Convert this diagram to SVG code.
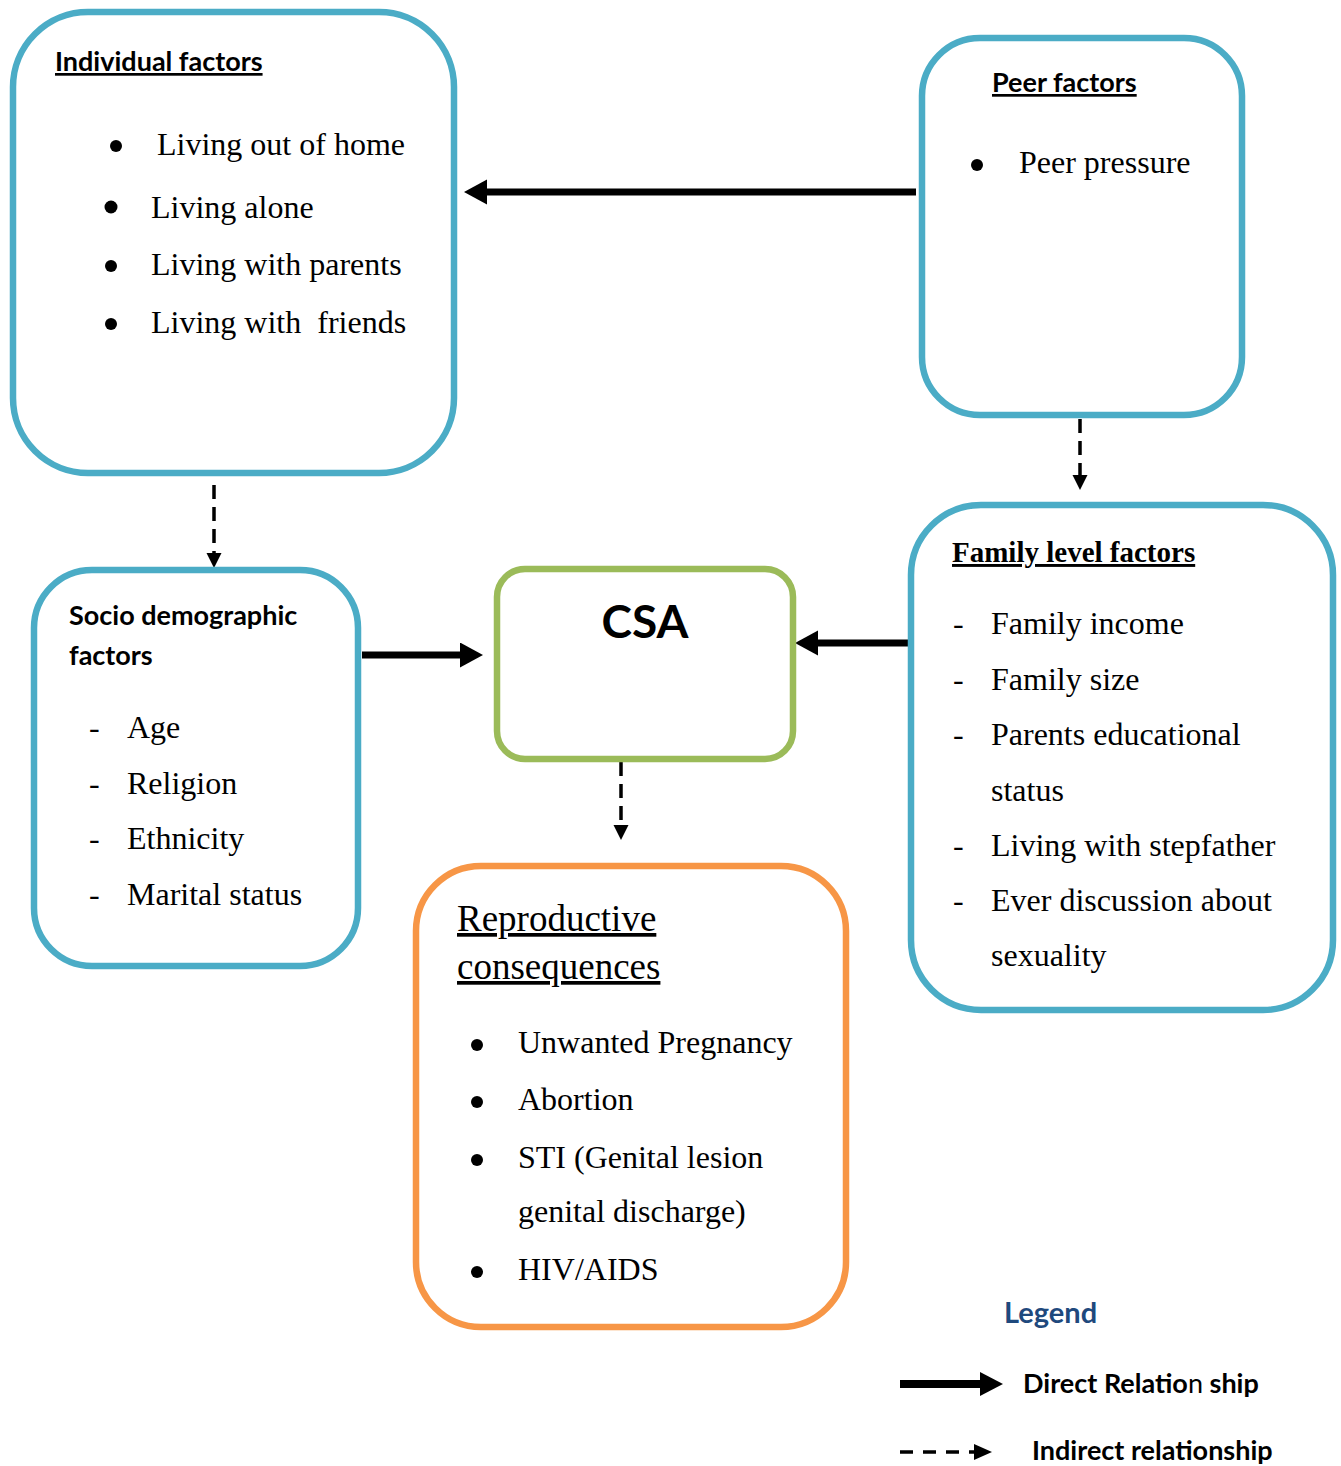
<svg xmlns="http://www.w3.org/2000/svg" width="1341" height="1466" viewBox="0 0 1341 1466">
<style>
.box{fill:#fff;stroke-width:6.5}
.blue{stroke:#4BACC6}
.green{stroke:#9BBB59}
.orange{stroke:#F79646}
.sans{font-family:Lato,"Liberation Sans",sans-serif;font-weight:bold;fill:#000}
.serif{font-family:"Liberation Serif",serif;font-size:32px;fill:#000}
.h{font-size:27px}
.u{text-decoration:underline}
.direct{stroke:#000;stroke-width:7;fill:none}
.indirect{stroke:#000;stroke-width:3.5;fill:none;stroke-dasharray:14 8}
</style>
<defs>
<marker id="big" markerUnits="userSpaceOnUse" markerWidth="24" markerHeight="26" refX="0" refY="12.5" orient="auto">
<path d="M0,0 L23,12.5 L0,25 z" fill="#000"/>
</marker>
<marker id="small" markerUnits="userSpaceOnUse" markerWidth="16" markerHeight="16" refX="0" refY="7.5" orient="auto">
<path d="M0,0 L15,7.5 L0,15 z" fill="#000"/>
</marker>
</defs>

<g id="connectors">
<line class="direct" x1="916" y1="192" x2="487" y2="192" marker-end="url(#big)"/>
<line class="direct" x1="362" y1="655" x2="460" y2="655" marker-end="url(#big)"/>
<line class="direct" x1="908" y1="643" x2="818" y2="643" marker-end="url(#big)"/>
<line class="indirect" x1="214" y1="485" x2="214" y2="553" marker-end="url(#small)"/>
<line class="indirect" x1="1080" y1="419" x2="1080" y2="475" marker-end="url(#small)"/>
<line class="indirect" x1="621" y1="762" x2="621" y2="825" marker-end="url(#small)"/>
</g>

<g id="individual">
<rect class="box blue" x="13" y="12" width="441" height="461" rx="75"/>
<text class="sans h u" x="55" y="71">Individual factors</text>
<circle cx="116" cy="146" r="6"/>
<text class="serif" x="157" y="155">Living out of home</text>
<circle cx="111" cy="207" r="6.5"/>
<text class="serif" x="151" y="218">Living alone</text>
<circle cx="111" cy="266" r="6"/>
<text class="serif" x="151" y="275">Living with parents</text>
<circle cx="111" cy="324" r="6"/>
<text class="serif" x="151" y="333" xml:space="preserve">Living with  friends</text>
</g>

<g id="peer">
<rect class="box blue" x="922" y="38" width="320" height="377" rx="58"/>
<text class="sans h u" x="992" y="92">Peer factors</text>
<circle cx="977" cy="165" r="6"/>
<text class="serif" x="1019" y="173">Peer pressure</text>
</g>

<g id="socio">
<rect class="box blue" x="34" y="570" width="324" height="396" rx="58"/>
<text class="sans h" x="69" y="625">Socio demographic</text>
<text class="sans h" x="69" y="665">factors</text>
<text class="serif" x="89" y="738">-</text>
<text class="serif" x="127" y="738">Age</text>
<text class="serif" x="89" y="794">-</text>
<text class="serif" x="127" y="794">Religion</text>
<text class="serif" x="89" y="849">-</text>
<text class="serif" x="127" y="849">Ethnicity</text>
<text class="serif" x="89" y="905">-</text>
<text class="serif" x="127" y="905">Marital status</text>
</g>

<g id="csa">
<rect class="box green" x="497" y="569" width="296" height="190" rx="28"/>
<text class="sans" x="645" y="638" font-size="46" text-anchor="middle">CSA</text>
</g>

<g id="family">
<rect class="box blue" x="911" y="505" width="422" height="505" rx="70"/>
<text x="952" y="562" font-family="'Liberation Serif',serif" font-weight="bold" font-size="29" class="u">Family level factors</text>
<text class="serif" x="953" y="634">-</text>
<text class="serif" x="991" y="634">Family income</text>
<text class="serif" x="953" y="690">-</text>
<text class="serif" x="991" y="690">Family size</text>
<text class="serif" x="953" y="745">-</text>
<text class="serif" x="991" y="745">Parents educational</text>
<text class="serif" x="991" y="801">status</text>
<text class="serif" x="953" y="856">-</text>
<text class="serif" x="991" y="856">Living with stepfather</text>
<text class="serif" x="953" y="911">-</text>
<text class="serif" x="991" y="911">Ever discussion about</text>
<text class="serif" x="991" y="966">sexuality</text>
</g>

<g id="reproductive">
<rect class="box orange" x="416" y="866" width="430" height="461" rx="65"/>
<text x="457" y="931" font-family="'Liberation Serif',serif" font-size="37" class="u">Reproductive</text>
<text x="457" y="979" font-family="'Liberation Serif',serif" font-size="37" class="u">consequences</text>
<circle cx="477" cy="1045" r="6"/>
<text class="serif" x="518" y="1053">Unwanted Pregnancy</text>
<circle cx="477" cy="1102" r="6"/>
<text class="serif" x="518" y="1110">Abortion</text>
<circle cx="477" cy="1160" r="6"/>
<text class="serif" x="518" y="1168">STI (Genital lesion</text>
<text class="serif" x="518" y="1222">genital discharge)</text>
<circle cx="477" cy="1272" r="6"/>
<text class="serif" x="518" y="1280">HIV/AIDS</text>
</g>

<g id="legend">
<text class="sans" x="1004" y="1323" font-size="29" style="fill:#1F497D">Legend</text>
<line x1="900" y1="1384" x2="980" y2="1384" stroke="#000" stroke-width="8"/>
<path d="M980,1372 L1003,1384 L980,1396 z" fill="#000"/>
<text class="sans h" x="1023" y="1393">Direct Relatio<tspan font-weight="normal">n</tspan> ship</text>
<line x1="900" y1="1452" x2="974" y2="1452" stroke="#000" stroke-width="3.5" stroke-dasharray="13 10"/>
<path d="M974,1444 L992,1452 L974,1460 z" fill="#000"/>
<text class="sans h" x="1032" y="1460">Indirect relationship</text>
</g>
</svg>
